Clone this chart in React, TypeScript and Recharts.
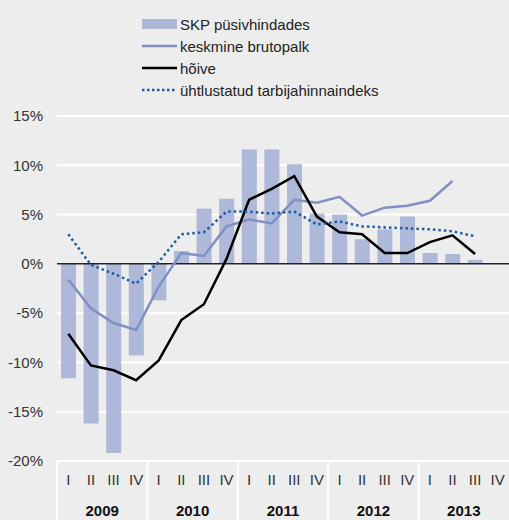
import { ComposedChart, Bar, Line, XAxis, YAxis, CartesianGrid, ReferenceLine } from 'recharts';

const quarters = ['I', 'II', 'III', 'IV'];
const years = ['2009', '2010', '2011', '2012', '2013'];

const gdp = [-11.6, -16.2, -19.2, -9.3, -3.7, 1.3, 5.6, 6.6, 11.6, 11.6, 10.1, 5.1, 5.0, 2.5, 3.5, 4.8, 1.1, 1.0, 0.4, null];
const wage = [-1.6, -4.5, -6.0, -6.7, -2.3, 1.1, 0.8, 3.8, 4.5, 4.1, 6.5, 6.2, 6.8, 4.9, 5.7, 5.9, 6.4, 8.4, null, null];
const employment = [-7.1, -10.3, -10.8, -11.8, -9.8, -5.7, -4.1, 0.5, 6.5, 7.6, 8.9, 4.8, 3.2, 3.0, 1.1, 1.1, 2.2, 2.9, 1.0, null];
const hicp = [3.0, -0.1, -1.0, -2.0, 0.2, 3.0, 3.2, 5.3, 5.3, 5.1, 5.3, 4.0, 4.3, 3.8, 3.7, 3.6, 3.5, 3.3, 2.8, null];

const yTicks = [-20, -15, -10, -5, 0, 5, 10, 15];

const data = gdp.map((g, i) => ({
  id: i,
  q: quarters[i % 4],
  year: years[Math.floor(i / 4)],
  gdp: g,
  wage: wage[i],
  employment: employment[i],
  hicp: hicp[i],
}));

const FONT = '"Liberation Sans", Arial, Helvetica, sans-serif';
const BAR_COLOR = '#aeb8d9';
const WAGE_COLOR = '#8090c4';
const HICP_COLOR = '#1b5d9e';
const STEP = 452 / 20;
const AXIS_Y = 461;

// quarter label on every tick, year separator before each I, year label centred under II/III
const QuarterTick = (props: any) => {
  const { x, index } = props;
  const row = data[index];
  return (
    <g>
      {index % 4 === 0 && (
        <line x1={x - STEP / 2} x2={x - STEP / 2} y1={AXIS_Y} y2={520} stroke="#fff" strokeWidth={2} />
      )}
      <text x={x} y={AXIS_Y + 24} textAnchor="middle" fontSize={15} fill="#333" fontFamily={FONT}>
        {row.q}
      </text>
      {index % 4 === 1 && (
        <text x={x + STEP / 2} y={AXIS_Y + 55} textAnchor="middle" fontSize={15} fontWeight="bold" fill="#111" fontFamily={FONT}>
          {row.year}
        </text>
      )}
    </g>
  );
};

const legendItems = [
  { label: 'SKP püsivhindades', type: 'bar' },
  { label: 'keskmine brutopalk', type: 'wage' },
  { label: 'hõive', type: 'emp' },
  { label: 'ühtlustatud tarbijahinnaindeks', type: 'hicp' },
];

const ChartLegend = () => (
  <div style={{ position: 'absolute', top: 13, left: 142, fontFamily: FONT, fontSize: 15, color: '#222' }}>
    {legendItems.map((item) => (
      <div key={item.label} style={{ display: 'flex', alignItems: 'center', height: 22 }}>
        <svg width={37} height={12} style={{ marginRight: 1 }}>
          {item.type === 'bar' && <rect x={0} y={1} width={35} height={10} fill={BAR_COLOR} />}
          {item.type === 'wage' && <line x1={0} x2={35} y1={6} y2={6} stroke={WAGE_COLOR} strokeWidth={2.5} />}
          {item.type === 'emp' && <line x1={0} x2={35} y1={6} y2={6} stroke="#000" strokeWidth={2.5} />}
          {item.type === 'hicp' && (
            <line x1={0} x2={35} y1={6} y2={6} stroke={HICP_COLOR} strokeWidth={2.5} strokeDasharray="2.5 2.5" />
          )}
        </svg>
        <span>{item.label}</span>
      </div>
    ))}
  </div>
);

export default function App() {
  return (
    <div style={{ position: 'absolute', top: 0, left: 0, width: 509, height: 520, background: '#ecedec', overflow: 'hidden' }}>
      <ComposedChart width={509} height={520} data={data} margin={{ top: 116, right: 0, bottom: 0, left: 0 }} barCategoryGap="33%">
        <CartesianGrid horizontal vertical={false} stroke="#fff" strokeWidth={2} />
        <XAxis dataKey="id" axisLine={false} tickLine={false} interval={0} tick={<QuarterTick />} height={59} />
        <YAxis
          width={57}
          domain={[-20, 15]}
          ticks={yTicks}
          axisLine={false}
          tickLine={false}
          tickMargin={8}
          tickFormatter={(v: number) => `${v}%`}
          tick={{ fontSize: 15, fill: '#333', fontFamily: FONT }}
        />
        <Bar dataKey="gdp" fill={BAR_COLOR} barSize={15} isAnimationActive={false} />
        <ReferenceLine y={0} stroke="#222" strokeWidth={1.5} />
        <Line dataKey="wage" stroke={WAGE_COLOR} strokeWidth={2.5} dot={false} isAnimationActive={false} />
        <Line dataKey="employment" stroke="#000" strokeWidth={2.5} dot={false} isAnimationActive={false} />
        <Line dataKey="hicp" stroke={HICP_COLOR} strokeWidth={2.5} strokeDasharray="2.5 3" dot={false} isAnimationActive={false} />
      </ComposedChart>
      <ChartLegend />
    </div>
  );
}
